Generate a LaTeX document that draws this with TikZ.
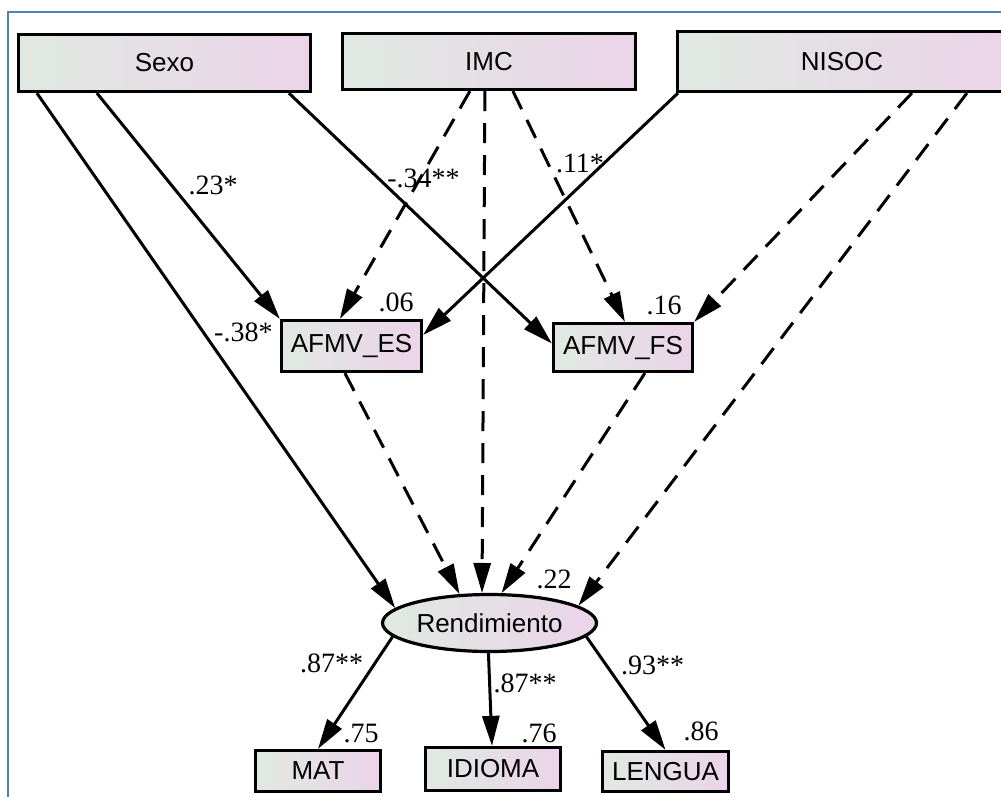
\documentclass[tikz,border=0pt]{standalone}
\usepackage{fontspec}
\setmainfont{Liberation Serif}
\setsansfont{Liberation Sans}
\usetikzlibrary{arrows.meta,shapes.geometric,positioning}
\definecolor{boxleft}{RGB}{224,233,225}
\definecolor{boxright}{RGB}{235,212,233}
\definecolor{frameblue}{RGB}{79,129,189}

\begin{document}
\begin{tikzpicture}[x=1pt, y=-1pt, line width=3pt, >={Triangle[length=30pt,width=17pt]},
    var/.style = {draw, line width=3.2pt, left color=boxleft, right color=boxright, inner sep=0pt, font=\sffamily\fontsize{26pt}{30pt}\selectfont},
    lat/.style = {var, ellipse},
    est/.style = {inner sep=0pt, font=\fontsize{28pt}{32pt}\selectfont},
    nsig/.style = {dash pattern=on 20pt off 12pt}]
            \useasboundingbox (0,0) rectangle (1001,796);
            \draw[frameblue, line width=2pt] (8,800) -- (8,12) -- (1005,12);

            \node[var, minimum width=292pt, minimum height=57pt] (sexo) at (164.5,63) {Sexo};
            \node[var, minimum width=293pt, minimum height=56pt] (imc) at (489,61.5) {IMC};
            \node[var, minimum width=329pt, minimum height=60pt] (nisoc) at (842,61.5) {NISOC};
            \node[var, minimum width=140pt, minimum height=51pt] (afes) at (351.5,346) {AFMV\_ES};
            \node[var, minimum width=139pt, minimum height=48pt] (affs) at (623,347.5) {AFMV\_FS};
            \node[lat, minimum width=214pt, minimum height=57pt] (rend) at (489.5,623) {Rendimiento};
            \node[var, minimum width=125pt, minimum height=41pt] (mat) at (318,771) {MAT};
            \node[var, minimum width=135pt, minimum height=43pt] (idioma) at (493,769) {IDIOMA};
            \node[var, minimum width=126pt, minimum height=40pt] (lengua) at (665.5,771.5) {LENGUA};

            \node[est] (r2es) [above left=5.5pt and 8pt of afes.north east] {.06};
            \node[est] (r2fs) [above left=5.5pt and 11pt of affs.north east] {.16};
            \node[est] (r2rend) [above right=2.5pt and 45.5pt of rend.north] {.22};
            \node[est] (r2mat) [above left=4.5pt and 2pt of mat.north east] {.75};
            \node[est] (r2idioma) [above left=1.5pt and 4pt of idioma.north east] {.76};
            \node[est] (r2lengua) [above left=7.5pt and 10pt of lengua.north east] {.86};

            \node[est] (c1) at (213,185) {.23*};
            \node[est] (c2) at (423.5,178) {-.34**};
            \node[est] (c3) at (580,163) {.11*};
            \node[est, anchor=east] (c4) at (274,332) {-.38*};
            \node[est] (c5) at (331.5,663) {.87**};
            \node[est] (c6) at (525,683) {.87**};
            \node[est] (c7) at (652.5,665) {.93**};

            \path[->] ([xshift=20pt]sexo.south west) edge (rend.171);
            \path[->] ([xshift=80pt]sexo.south west) edge (afes.north west);
            \path[->] ([xshift=272pt]sexo.south west) edge ([yshift=4pt]affs.west);

            \path[->, nsig] ([xshift=129pt]imc.south west) edge ([xshift=60pt]afes.north west);
            \path[->, nsig] ([xshift=144pt]imc.south west) edge (rend.104);
            \path[->, nsig] ([xshift=172pt]imc.south west) edge ([xshift=73pt]affs.north west);

            \path[->] ([xshift=2pt]nisoc.south west) edge ([yshift=11pt]afes.east);
            \path[->, nsig] ([xshift=236pt]nisoc.south west) edge (affs.north east);
            \path[->, nsig] ([xshift=291pt]nisoc.south west) edge (rend.11);

            \path[->, nsig] ([xshift=65pt]afes.south west) edge (rend.136);
            \path[->, nsig] ([xshift=93pt]affs.south west) edge (rend.68);

            \path[->] (rend.188) edge (mat.north);
            \path[->] (rend.268) edge ([xshift=-1pt]idioma.north);
            \path[->] (rend.352) edge (lengua.north);
        \end{tikzpicture}
\end{document}
